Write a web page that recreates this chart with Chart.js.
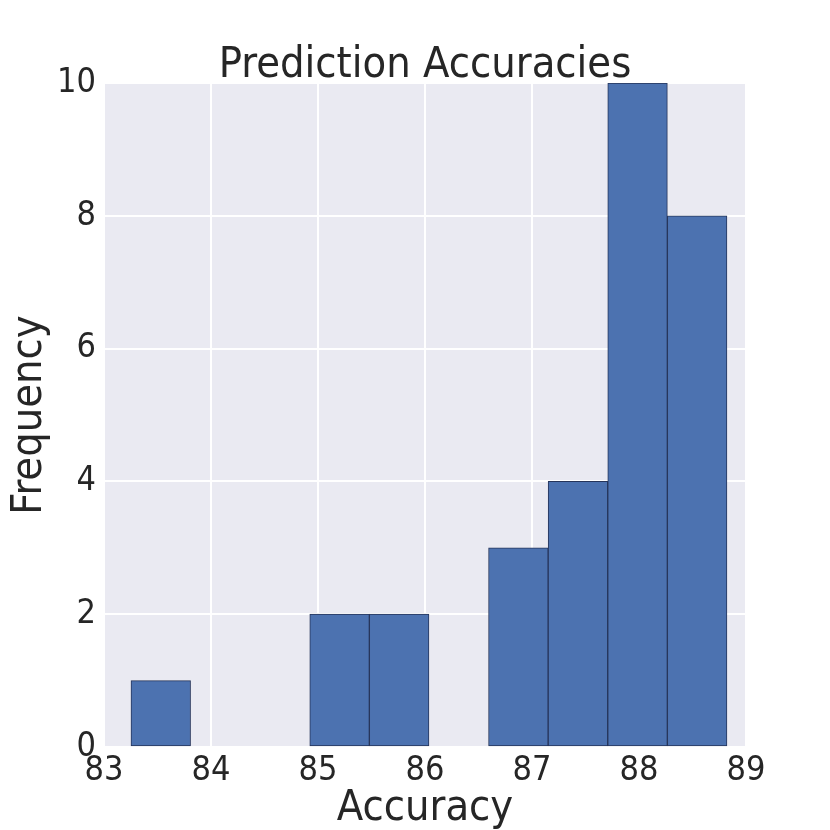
<!DOCTYPE html>
<html>
<head>
<meta charset="utf-8">
<script src="https://cdn.jsdelivr.net/npm/chart.js@4/dist/chart.umd.min.js"></script>
<style>
  html, body { margin: 0; padding: 0; background: #fff; }
  #wrap { width: 830px; height: 830px; }
</style>
</head>
<body>
<div id="wrap"><canvas id="histChart"></canvas></div>
<script>
// histogram bins (centers) and counts
const binCenters = [83.5305, 84.0875, 84.6445, 85.2015, 85.7585, 86.3155, 86.8725, 87.4295, 87.9865, 88.5435];
const binCounts = [1, 0, 0, 2, 2, 0, 3, 4, 10, 8];
const xTicks = [83, 84, 85, 86, 87, 88, 89];
const yTicks = [0, 2, 4, 6, 8, 10];

const fontFamily = "'DejaVu Sans Condensed', 'DejaVu Sans', sans-serif";

const plotBackground = {
    id: 'plotBackground',
    beforeDraw(chart) {
        const { ctx, chartArea } = chart;
        ctx.save();
        ctx.fillStyle = '#eaeaf2';
        ctx.fillRect(chartArea.left, chartArea.top, chartArea.width, chartArea.height);
        ctx.restore();
    }
};

const ctx = document.getElementById('histChart').getContext('2d');
new Chart(ctx, {
    type: 'bar',
    data: {
        datasets: [{
            data: binCenters.map((x, i) => ({ x: x, y: binCounts[i] })),
            backgroundColor: '#4c72b0',
            borderColor: '#25345a',
            borderWidth: 1,
            borderSkipped: false,
            barPercentage: 1,
            categoryPercentage: 1
        }]
    },
    options: {
        responsive: true,
        maintainAspectRatio: false,
        animation: false,
        layout: {
            padding: { left: 0, right: 84, top: 0, bottom: 0 }
        },
        plugins: {
            legend: { display: false },
            tooltip: { enabled: false },
            title: {
                display: true,
                fullSize: false,
                text: 'Prediction Accuracies',
                color: '#262626',
                font: { family: fontFamily, size: 43, weight: 'normal', lineHeight: 0.8 },
                padding: { top: 48.6, bottom: 0 }
            }
        },
        scales: {
            x: {
                type: 'linear',
                offset: false,
                min: 83,
                max: 89,
                afterBuildTicks(axis) {
                    axis.ticks = xTicks.map(v => ({ value: v }));
                },
                afterFit(axis) { axis.height = 83; },
                grid: { color: '#ffffff', lineWidth: 2, drawTicks: false, offset: false },
                border: { display: false },
                ticks: {
                    color: '#262626',
                    padding: 4,
                    maxRotation: 0,
                    font: { family: fontFamily, size: 34 }
                },
                title: {
                    display: true,
                    text: 'Accuracy',
                    color: '#262626',
                    padding: { top: 0, bottom: 0 },
                    font: { family: fontFamily, size: 43, lineHeight: 1.0 }
                }
            },
            y: {
                min: 0,
                max: 10,
                afterBuildTicks(axis) {
                    axis.ticks = yTicks.map(v => ({ value: v }));
                },
                afterFit(axis) { axis.width = 104; },
                grid: { color: '#ffffff', lineWidth: 2, drawTicks: false },
                border: { display: false },
                ticks: {
                    color: '#262626',
                    padding: 8,
                    font: { family: fontFamily, size: 34 }
                },
                title: {
                    display: true,
                    text: 'Frequency',
                    color: '#262626',
                    padding: { top: 8, bottom: 0 },
                    font: { family: fontFamily, size: 43, lineHeight: 1.0 }
                }
            }
        }
    },
    plugins: [plotBackground]
});
</script>
</body>
</html>
